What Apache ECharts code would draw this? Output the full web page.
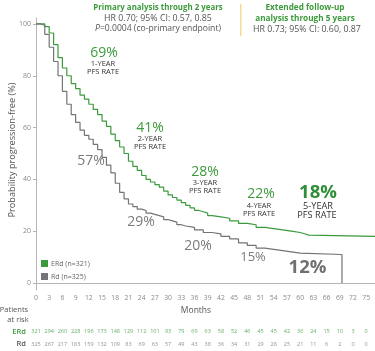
<!DOCTYPE html>
<html><head><meta charset="utf-8">
<script src="https://cdn.jsdelivr.net/npm/echarts@6/dist/echarts.min.js"></script>
<style>html,body{margin:0;padding:0;background:#fff}#c{width:375px;height:351px}</style>
</head><body><div id="c"></div>
<script>
const erdMonths = [0,1,2,3,4,5,6,7,8,9,10,11,12,13,14,15,16,17,18,19,20,21,22,23,24,25,26,27,28,29,30,31,32,33,34,35,36,37,38,39,40,42,44,46,48,50,52,54,56,58,60,61,62,77];
const erdPFS = [100,100,99,96.5,92,87,83,80,77,75,72.5,71,69,67,65,62.5,60.5,57.5,55,52.5,50,47,45,43.5,41.5,40,39,38,37,35.5,34,33,32,31,30,29,28,27.5,27,26,25.5,25,24,23,22.5,21.5,21,20.5,20,19.5,19,18.5,18,18];
const rdMonths = [0,1,2,3,4,5,6,7,8,9,10,11,12,13,14,15,16,17,18,19,20,21,22,23,24,25,26,27,28,29,30,31,32,33,34,36,38,40,42,44,46,48,50,52,54,56,58,60,69.5];
const rdPFS = [100,99.5,96,91,85.5,80,74,69,65,62,59,57,55.5,53.5,51.5,48.5,45.5,42.5,38.5,35,32.5,30.5,29.5,28.5,28,27,26.5,26,25.5,24.5,24,23.5,22.5,22,21.5,20.5,19.5,19,18,17,15.5,14.5,13.5,13,12.5,12,11.5,11,0];
const riskMonths = [0,3,6,9,12,15,18,21,24,27,30,33,36,39,42,45,48,51,54,57,60,63,66,69,72,75];
const erdRisk = [321,294,260,228,196,173,148,129,112,101,93,79,69,63,58,52,46,45,45,42,36,24,15,10,3,0];
const rdRisk = [325,267,217,183,159,132,109,83,69,63,57,49,43,38,36,34,31,29,28,25,21,11,6,2,0,0];
const yTicks = [0,20,40,60,80,100];
const seriesNames = ['ERd (n=321)','Rd (n=325)'];
const riskRows = ['Rd','ERd'];

const GREEN = '#3c9a3c', GRAY = '#737477', FONT = '"Open Sans", Lato, sans-serif';
const chart = echarts.init(document.getElementById('c'));

function txt(x, y, text, size, color, weight, extra) {
  return Object.assign({type:'text', x:x, y:y, style:{text:text, fontSize:size, fill:color, fontWeight:weight||'normal', fontFamily:FONT, align:'center', verticalAlign:'middle'}}, extra||{});
}

chart.setOption({
  animation:false,
  textStyle:{fontFamily:FONT},
  grid:[
    {left:36, right:0, top:18, bottom:61},
    {left:36, right:0, top:325.4, height:25.2}
  ],
  xAxis:[
    {type:'value', gridIndex:0, min:0, max:77, interval:3,
     axisLine:{lineStyle:{color:'#b5b5b5', width:1}}, axisTick:{show:false},
     axisLabel:{fontSize:6.8, color:'#8a8a8a', margin:5, showMaxLabel:false}, splitLine:{show:false}},
    {type:'value', gridIndex:1, min:0, max:77, show:false}
  ],
  yAxis:[
    {type:'value', gridIndex:0, min:-2.7, max:102.3,
     axisLine:{show:true, lineStyle:{color:'#b5b5b5', width:1}},
     axisTick:{show:true, length:3, customValues:yTicks, lineStyle:{color:'#b5b5b5'}},
     axisLabel:{fontSize:7, color:'#8a8a8a', margin:5, customValues:yTicks},
     splitLine:{show:false}},
    {type:'category', gridIndex:1, data:riskRows, axisLine:{show:false}, axisTick:{show:false},
     axisLabel:{margin:10, fontSize:7.5, formatter:function(v){return v==='ERd'?'{g|ERd}':'{k|Rd}';},
       rich:{g:{color:GREEN, fontSize:7.5, fontWeight:600}, k:{color:'#555', fontSize:7.5, fontWeight:600}}}}
  ],
  legend:{orient:'vertical', left:41, top:260, itemWidth:7, itemHeight:7, itemGap:6, padding:0,
    textStyle:{fontSize:7, color:'#666', fontFamily:FONT, padding:[0,0,0,-2]},
    data:[{name:seriesNames[0], icon:'rect'},{name:seriesNames[1], icon:'rect'}]},
  series:[
    {name:seriesNames[0], type:'line', step:'end', xAxisIndex:0, yAxisIndex:0, showSymbol:false, color:GREEN,
     lineStyle:{width:1.2, color:GREEN}, data:erdMonths.map((m,i)=>[m, erdPFS[i]])},
    {name:seriesNames[1], type:'line', step:'end', xAxisIndex:0, yAxisIndex:0, showSymbol:false, color:GRAY,
     lineStyle:{width:1.2, color:GRAY}, data:rdMonths.map((m,i)=>[m, rdPFS[i]])},
    {type:'scatter', xAxisIndex:1, yAxisIndex:1, symbolSize:0, silent:true,
     label:{show:true, position:'inside', fontSize:5.5, color:GREEN, formatter:p=>String(p.value[2])},
     data:riskMonths.map((m,i)=>[m,'ERd',erdRisk[i]])},
    {type:'scatter', xAxisIndex:1, yAxisIndex:1, symbolSize:0, silent:true,
     label:{show:true, position:'inside', fontSize:5.5, color:'#777', formatter:p=>String(p.value[2])},
     data:riskMonths.map((m,i)=>[m,'Rd',rdRisk[i]])}
  ],
  graphic:[
    txt(158, 8, 'Primary analysis through 2 years', 7.9, GREEN, 'bold'),
    txt(158, 18.5, 'HR 0.70; 95% CI: 0.57, 0.85', 8.8, '#555'),
    {type:'text', x:158, y:29, style:{text:'{i|P}=0.0004 (co-primary endpoint)', fontSize:8.6, fill:'#555', fontFamily:FONT, align:'center', verticalAlign:'middle', rich:{i:{fontStyle:'italic', fontSize:8.6, fill:'#555', fontFamily:FONT}}}},
    {type:'rect', shape:{x:240, y:4, width:1.5, height:32}, style:{fill:'#f6dc8f'}},
    txt(305, 8, 'Extended follow-up', 8.2, GREEN, 'bold'),
    txt(305, 18.5, 'analysis through 5 years', 8.2, GREEN, 'bold'),
    txt(307, 29, 'HR 0.73; 95% CI: 0.60, 0.87', 8.8, '#555'),
    txt(12, 150, 'Probability progression-free (%)', 9.2, '#555', 'normal', {rotation:Math.PI/2}),
    txt(196, 311, 'Months', 8.5, '#555'),
    txt(14, 310, 'Patients', 7.5, '#555'),
    txt(18, 319.5, 'at risk', 7.5, '#555'),
    txt(104, 53, '69%', 14, GREEN),
    txt(103, 64, '1-YEAR', 7.5, '#333'),
    txt(103, 72, 'PFS RATE', 7.5, '#333'),
    txt(150, 128.5, '41%', 14, GREEN),
    txt(150, 139, '2-YEAR', 7.5, '#333'),
    txt(150, 147, 'PFS RATE', 7.5, '#333'),
    txt(205, 172, '28%', 14, GREEN),
    txt(205, 182.5, '3-YEAR', 7.5, '#333'),
    txt(205, 191, 'PFS RATE', 7.5, '#333'),
    txt(261, 194, '22%', 14, GREEN),
    txt(259, 205.5, '4-YEAR', 7.5, '#333'),
    txt(259, 213.5, 'PFS RATE', 7.5, '#333'),
    txt(318, 192.5, '18%', 18.5, '#2f8f37', 'bold'),
    txt(318, 206, '5-YEAR', 9.2, '#333'),
    txt(317, 215.5, 'PFS RATE', 9.2, '#333'),
    txt(91, 161, '57%', 14, '#7a7a7a'),
    txt(141, 222, '29%', 14, '#7a7a7a'),
    txt(198, 246.5, '20%', 14, '#7a7a7a'),
    txt(253, 257, '15%', 13, '#7a7a7a'),
    txt(307.5, 268, '12%', 18.5, '#707070', 'bold')
  ]
});
</script></body></html>
